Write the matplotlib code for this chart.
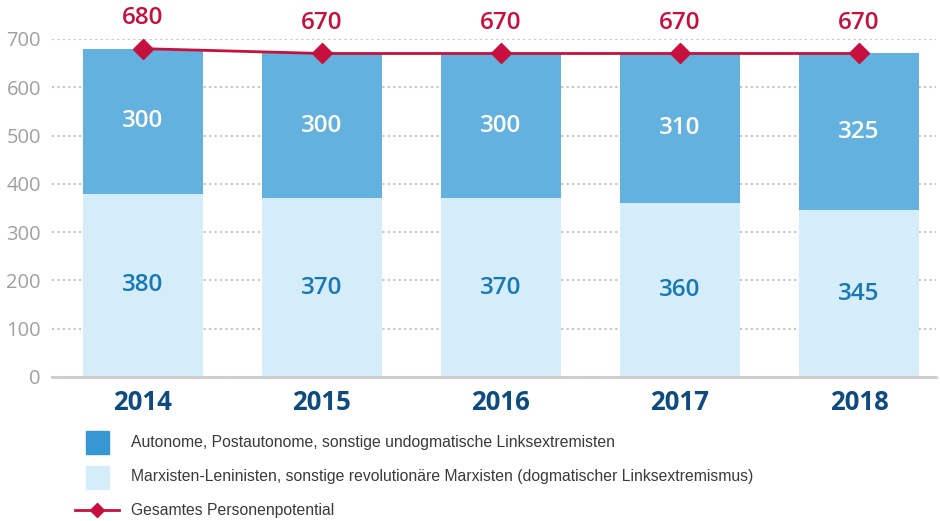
import matplotlib
matplotlib.use("Agg")
import matplotlib.pyplot as plt
from matplotlib.patches import Rectangle
from matplotlib.lines import Line2D
import numpy as np

years = ["2014", "2015", "2016", "2017", "2018"]
marxisten = [380, 370, 370, 360, 345]
autonome = [300, 300, 300, 310, 325]
gesamt = [680, 670, 670, 670, 670]
yticks = [0, 100, 200, 300, 400, 500, 600, 700]
legend_labels = [
    "Autonome, Postautonome, sonstige undogmatische Linksextremisten",
    "Marxisten-Leninisten, sonstige revolutionäre Marxisten (dogmatischer Linksextremismus)",
    "Gesamtes Personenpotential",
]

DARK = "#62b1de"
LIGHT = "#d5edf9"
LEG_DARK = "#3797d3"
RED = "#c8103e"
YEARBLUE = "#0d4b80"
MIDBLUE = "#1878b6"
GRAY = "#a0a0a0"

W, H = 940, 521
fig = plt.figure(figsize=(W / 100, H / 100), dpi=100)
ax = fig.add_axes([52 / W, (H - 377) / H, (936 - 52) / W, (377 - 39) / H])

x = np.arange(len(years))
bw = 0.675
ax.bar(x, marxisten, width=bw, color=LIGHT, zorder=2)
ax.bar(x, autonome, width=bw, bottom=marxisten, color=DARK, zorder=2)
ax.plot(x, gesamt, color=RED, lw=2, marker="D", ms=10, zorder=4, clip_on=False)

numfont = "Open Sans"
for i in range(len(years)):
    ax.text(x[i], marxisten[i] / 2, str(marxisten[i]), ha="center", va="center",
            color=MIDBLUE, fontsize=17.5, fontweight="semibold", family=numfont, zorder=5)
    ax.text(x[i], marxisten[i] + autonome[i] / 2, str(autonome[i]), ha="center", va="center",
            color="white", fontsize=17.5, fontweight="semibold", family=numfont, zorder=5)
    ax.annotate(str(gesamt[i]), (x[i], gesamt[i]), xytext=(0, 22), textcoords="offset points",
                ha="center", va="center", color=RED, fontsize=17.5, fontweight="semibold",
                family=numfont, annotation_clip=False)

ax.set_xlim(-0.508, 4.43)
ax.set_ylim(0, 700)
ax.set_yticks(yticks)
ax.set_yticklabels([str(v) for v in yticks])
ax.set_xticks(x)
ax.set_xticklabels(years)
for lbl in ax.get_xticklabels():
    lbl.set_fontsize(18.5)
    lbl.set_fontweight("bold")
    lbl.set_color(YEARBLUE)
    lbl.set_family(numfont)
for lbl in ax.get_yticklabels():
    lbl.set_fontsize(14.5)
    lbl.set_color(GRAY)
    lbl.set_family("Open Sans")
ax.tick_params(axis="both", length=0)
ax.tick_params(axis="y", pad=8)
ax.tick_params(axis="x", pad=9)
ax.grid(axis="y", color="#c4c4c4", linestyle=(0, (1, 1.6)), lw=1.5, zorder=0)
for s in ["top", "right", "left"]:
    ax.spines[s].set_visible(False)
ax.spines["bottom"].set_color("#cccccc")
ax.spines["bottom"].set_linewidth(2)
ax.spines["bottom"].set_zorder(3)

# legend drawn in figure pixel coordinates
def fx(px):
    return px / W

def fy(py):
    return (H - py) / H

legfont = ["Liberation Sans Narrow", "Liberation Sans", "DejaVu Sans"]
fig.patches.append(Rectangle((fx(86), fy(454)), 23 / W, 23 / H, transform=fig.transFigure,
                             color=LEG_DARK, figure=fig))
fig.patches.append(Rectangle((fx(86), fy(489)), 23 / W, 23 / H, transform=fig.transFigure,
                             color=LIGHT, figure=fig))
fig.lines.append(Line2D([fx(75), fx(119)], [fy(510), fy(510)], transform=fig.transFigure,
                        color=RED, lw=2, figure=fig))
fig.lines.append(Line2D([fx(97)], [fy(510)], transform=fig.transFigure, color=RED,
                        marker="D", ms=7, figure=fig))
for py, lab in zip([442, 477, 510], legend_labels):
    fig.text(fx(131), fy(py), lab, ha="left", va="center", fontsize=11.3,
             color="#3a3a3a", family=legfont)

fig.savefig("out.png", dpi=100)
